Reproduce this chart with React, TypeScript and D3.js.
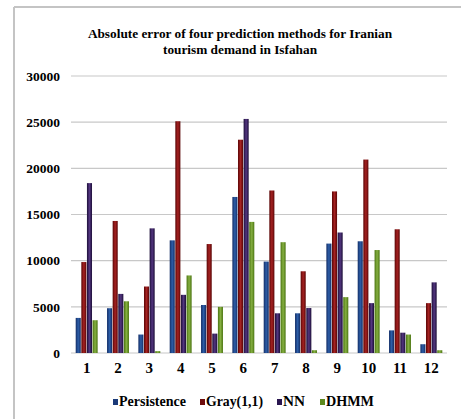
import * as d3 from 'd3'

const months = ['1', '2', '3', '4', '5', '6', '7', '8', '9', '10', '11', '12']
const seriesNames = ['Persistence', 'Gray(1,1)', 'NN', 'DHMM']
const persistence = [3800, 4850, 2000, 12200, 5200, 16900, 9900, 4300, 11850, 12100, 2450, 950]
const gray = [9850, 14300, 7200, 25100, 11800, 23100, 17600, 8850, 17500, 20950, 13400, 5400]
const nn = [18400, 6400, 13500, 6300, 2100, 25350, 4300, 4870, 13050, 5400, 2200, 7650]
const dhmm = [3550, 5600, 200, 8400, 5000, 14200, 12000, 300, 6050, 11150, 2000, 300]
const yTicks = [0, 5000, 10000, 15000, 20000, 25000, 30000]

const colors = [
  { edge: '#132d66', mid: '#2d5ea8', key: '#1b3a78' },
  { edge: '#5a0505', mid: '#a52222', key: '#6e0c0c' },
  { edge: '#1c0e38', mid: '#533680', key: '#2a1650' },
  { edge: '#4a7410', mid: '#86b042', key: '#5e8a1e' },
]

const serif = '"Liberation Serif", "Times New Roman", serif'

export default function App() {
  const width = 461
  const height = 419
  const left = 71
  const right = 447
  const top = 76
  const bottom = 353

  const values = [persistence, gray, nn, dhmm]

  const x0 = d3.scaleBand<string>().domain(months).range([left, right]).paddingInner(0.3).paddingOuter(0.15)
  const x1 = d3.scaleBand<string>().domain(seriesNames).range([0, x0.bandwidth()]).paddingInner(0.1)
  const y = d3.scaleLinear().domain([0, 30000]).range([bottom, top])

  const legendX = [113, 200, 277, 320]
  const legendW = [67, 57, 22, 48]

  return (
    <svg width={width} height={height} style={{ position: 'absolute', left: 0, top: 0 }}>
      <defs>
        {colors.map((c, i) => (
          <linearGradient key={i} id={`g${i}`} x1="0" x2="1" y1="0" y2="0">
            <stop offset="0%" stopColor={c.edge} />
            <stop offset="50%" stopColor={c.mid} />
            <stop offset="100%" stopColor={c.edge} />
          </linearGradient>
        ))}
      </defs>
      <rect width={width} height={height} fill="#fff" />
      <line x1={14} x2={width} y1={7} y2={7} stroke="#c4c4c4" strokeWidth={2} />
      <line x1={14} x2={14} y1={7} y2={height} stroke="#c4c4c4" strokeWidth={2} />

      <text x={240} y={38} textAnchor="middle" fontFamily={serif} fontWeight="bold" fontSize={13.3}>
        Absolute error of four prediction methods for Iranian
      </text>
      <text x={240} y={54} textAnchor="middle" fontFamily={serif} fontWeight="bold" fontSize={13.3}>
        tourism demand in Isfahan
      </text>

      {yTicks.map((t) => (
        <g key={t}>
          <line x1={left} x2={right} y1={y(t)} y2={y(t)} stroke="#c8c8c8" strokeWidth={1.2} />
          <text x={60} y={y(t)} dy="0.35em" textAnchor="end" fontFamily={serif} fontWeight="bold" fontSize={13.5}>
            {t}
          </text>
        </g>
      ))}

      {months.map((m, i) => (
        <g key={m}>
          {values.map((vals, s) => (
            <rect
              key={s}
              x={(x0(m) ?? 0) + (x1(seriesNames[s]) ?? 0)}
              y={y(vals[i])}
              width={x1.bandwidth()}
              height={bottom - y(vals[i])}
              fill={`url(#g${s})`}
            />
          ))}
          <text
            x={(x0(m) ?? 0) + x0.bandwidth() / 2}
            y={373}
            textAnchor="middle"
            fontFamily={serif}
            fontWeight="bold"
            fontSize={15}
          >
            {m}
          </text>
        </g>
      ))}

      {seriesNames.map((name, s) => (
        <g key={name} transform={`translate(${legendX[s]},0)`}>
          <rect x={0} y={399} width={5} height={6} fill={colors[s].key} />
          <text
            x={6}
            y={406}
            fontFamily={serif}
            fontWeight="bold"
            fontSize={14}
            textLength={legendW[s]}
            lengthAdjust="spacingAndGlyphs"
          >
            {name}
          </text>
        </g>
      ))}
    </svg>
  )
}
